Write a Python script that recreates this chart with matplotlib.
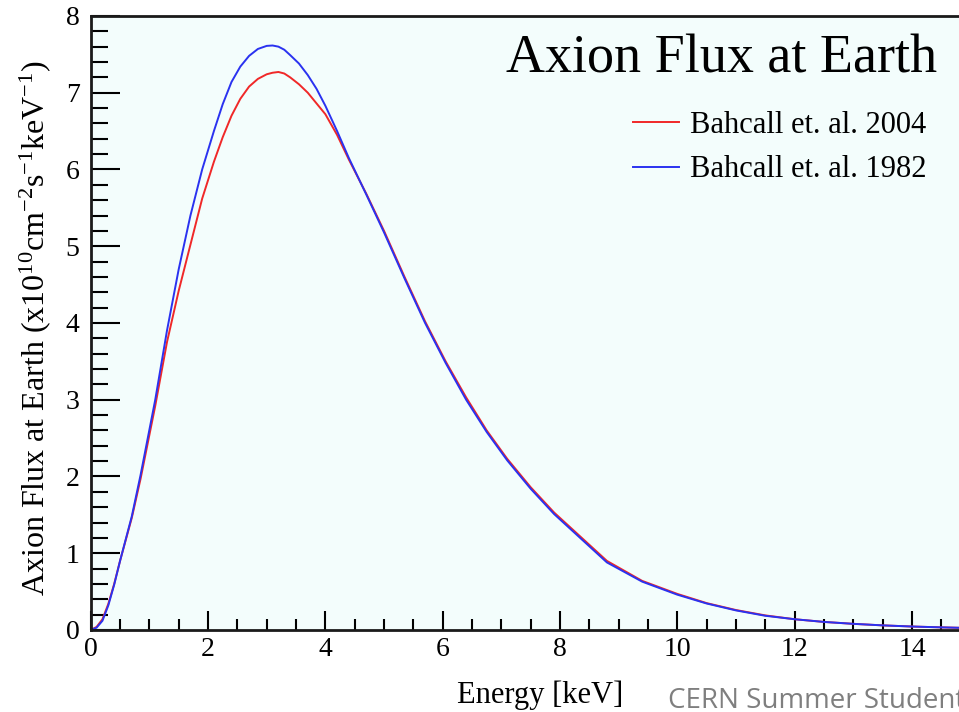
import matplotlib as mpl
mpl.use('Agg')
import matplotlib.pyplot as plt
from matplotlib.ticker import MultipleLocator, FormatStrFormatter

plt.rcParams['font.family'] = 'Liberation Serif'
plt.rcParams['mathtext.fontset'] = 'custom'
plt.rcParams['mathtext.rm'] = 'Liberation Serif'
plt.rcParams['mathtext.default'] = 'regular'

# energy in keV, flux in 10^10 cm^-2 s^-1 keV^-1
energy = [0, 0.1, 0.2, 0.3, 0.4, 0.5, 0.7, 0.85, 1.1, 1.3, 1.5, 1.7, 1.9, 2.1, 2.25,
          2.4, 2.55, 2.7, 2.85, 3.0, 3.1, 3.2, 3.3, 3.4, 3.55, 3.7, 3.85, 4.0,
          4.2, 4.4, 4.7, 5.0, 5.35, 5.7, 6.05, 6.4, 6.75, 7.1, 7.5, 7.9, 8.3,
          8.8, 9.4, 10, 10.5, 11, 11.5, 12, 12.5, 13, 13.5, 14, 14.5, 15]

flux_2004 = [0, 0.04, 0.14, 0.34, 0.6, 0.9, 1.46, 1.97, 2.92, 3.75, 4.42, 5.02, 5.62,
             6.1, 6.42, 6.7, 6.92, 7.08, 7.18, 7.24, 7.26, 7.27, 7.25, 7.2, 7.11,
             7.0, 6.86, 6.72, 6.45, 6.13, 5.68, 5.2, 4.6, 4.02, 3.5, 3.03, 2.6,
             2.23, 1.86, 1.53, 1.25, 0.9, 0.64, 0.47, 0.35, 0.26, 0.19, 0.14,
             0.105, 0.08, 0.06, 0.045, 0.034, 0.025]

flux_1982 = [0, 0.03, 0.12, 0.32, 0.59, 0.9, 1.48, 2.02, 3.0, 3.9, 4.7, 5.4, 6.0,
             6.5, 6.85, 7.14, 7.34, 7.48, 7.57, 7.61, 7.615, 7.6, 7.56, 7.49,
             7.38, 7.23, 7.05, 6.83, 6.5, 6.15, 5.67, 5.18, 4.58, 4.0, 3.48,
             3.0, 2.58, 2.21, 1.84, 1.51, 1.23, 0.88, 0.63, 0.46, 0.345, 0.255,
             0.185, 0.14, 0.105, 0.08, 0.06, 0.045, 0.034, 0.025]

labels = ['Bahcall et. al. 2004', 'Bahcall et. al. 1982']

fig = plt.figure(figsize=(9.59, 7.12), dpi=100)
ax = fig.add_axes([0.0946, 0.1152, 0.9175, 0.8624])
ax.set_facecolor('#f3fdfc')

ax.plot(energy, flux_2004, '-', color='#f02828', lw=1.4, label=labels[0])
ax.plot(energy, flux_1982, '-', color='#2a32f0', lw=1.4, label=labels[1])

ax.set_xlim(0, 15)
ax.set_ylim(0, 8)

# ROOT style ticks
ax.xaxis.set_major_locator(MultipleLocator(2))
ax.xaxis.set_minor_locator(MultipleLocator(0.5))
ax.yaxis.set_major_locator(MultipleLocator(1))
ax.yaxis.set_minor_locator(MultipleLocator(0.2))
ax.xaxis.set_major_formatter(FormatStrFormatter('%d'))
ax.yaxis.set_major_formatter(FormatStrFormatter('%d'))
ax.tick_params(axis='x', which='major', direction='in', length=14, width=1.5, pad=5, labelsize=20)
ax.tick_params(axis='x', which='minor', direction='in', length=8, width=1.5)
ax.tick_params(axis='y', which='major', direction='in', length=21, width=1.5, pad=8, labelsize=20)
ax.tick_params(axis='y', which='minor', direction='in', length=12, width=1.5)

for s in ['left', 'bottom', 'top']:
    ax.spines[s].set_linewidth(2)
    ax.spines[s].set_color('#1a1a1a')
ax.spines['right'].set_visible(False)

ax.text(0.962, 0.908, 'Axion Flux at Earth', transform=ax.transAxes,
        ha='right', va='baseline', fontsize=39)

ax.legend(loc='upper right', bbox_to_anchor=(0.981, 0.89), frameon=False,
          fontsize=22, handlelength=1.5, handletextpad=0.35, labelspacing=0.5)

fig.text(0.037, 0.539, r'Axion Flux at Earth (x10$^{10}$cm$^{-2}$s$^{-1}$keV$^{-1}$)',
         rotation=90, ha='center', va='center', fontsize=23)
fig.text(0.563, 0.0126, 'Energy [keV]', ha='center', va='baseline', fontsize=22)

fig.text(0.6966, 0.006, 'CERN Summer Student', ha='left', va='baseline',
         fontsize=20, color='#7f7f7f', family='Open Sans')

plt.savefig('out.png', dpi=100)
plt.close(fig)
